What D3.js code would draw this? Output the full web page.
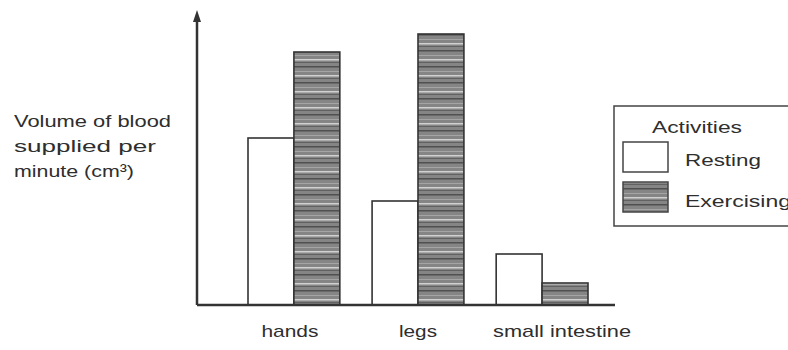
<!DOCTYPE html>
<html>
<head>
<meta charset="utf-8">
<script src="https://cdn.jsdelivr.net/npm/d3@7"></script>
<style>
	body { margin: 0; background: #fff; }
	svg text { font-family: 'Liberation Sans', Arial, sans-serif; fill: #2e2e2e; }
</style>
</head>
<body>
<div id="chart"></div>
<script>
// data (no scale printed, arbitrary units)
let categories = ['hands', 'legs', 'small intestine'];
let series = ['Resting', 'Exercising'];
let resting = [167, 104, 51];
let exercising = [253, 271, 22];
let yLabel = ['Volume of blood', 'supplied per', 'minute (cm³)'];
let legendTitle = 'Activities';

let width = 788,
	height = 350;
let x0 = 197,
	baseY = 305;

// widths of the (wide, scanned) lettering in the original
let catWidths = { hands: 57, legs: 38, 'small intestine': 138 };
let yLabelWidths = [157, 142, 120];
let legendWidths = { Activities: 90, Resting: 76, Exercising: 106 };

let svg = d3.select('#chart').append('svg').attr('width', width).attr('height', height);

// striped pattern for the exercising bars
let defs = svg.append('defs');
let pat = defs.append('pattern')
	.attr('id', 'stripes')
	.attr('patternUnits', 'userSpaceOnUse')
	.attr('width', 8)
	.attr('height', 16);
pat.append('rect').attr('width', 8).attr('height', 16).attr('fill', '#858585');
pat.append('rect').attr('y', 2).attr('width', 8).attr('height', 1.5).attr('fill', '#505050');
pat.append('rect').attr('y', 7).attr('width', 8).attr('height', 1).attr('fill', '#a5a5a5');
pat.append('rect').attr('y', 11).attr('width', 8).attr('height', 1.5).attr('fill', '#d0d0d0');
pat.append('rect').attr('y', 14).attr('width', 8).attr('height', 1).attr('fill', '#626262');

let x = d3.scaleBand().domain(categories).range([248, 588]).paddingInner(0.26).paddingOuter(0);
let xs = d3.scaleBand().domain(series).range([0, x.bandwidth()]);
let y = d3.scaleLinear().domain([0, 300]).range([baseY, 5]);

let rows = categories.map((c, i) => ({ cat: c, values: [resting[i], exercising[i]] }));

let groups = svg.selectAll('g.grp')
	.data(rows)
	.enter()
	.append('g')
	.attr('class', 'grp')
	.attr('transform', (d) => 'translate(' + x(d.cat) + ',0)');

groups.selectAll('rect')
	.data((d) => d.values.map((v, j) => ({ s: series[j], v: v })))
	.enter()
	.append('rect')
	.attr('x', (d) => xs(d.s))
	.attr('y', (d) => y(d.v))
	.attr('width', xs.bandwidth())
	.attr('height', (d) => baseY - y(d.v))
	.attr('fill', (d) => (d.s == 'Resting' ? '#fff' : 'url(#stripes)'))
	.attr('stroke', '#333')
	.attr('stroke-width', 1.6);

// axes (no ticks in the original)
svg.append('line').attr('x1', x0).attr('x2', x0).attr('y1', 18).attr('y2', baseY)
	.attr('stroke', '#333').attr('stroke-width', 2.5);
svg.append('path').attr('d', 'M' + x0 + ',10 L' + (x0 - 4) + ',22 L' + (x0 + 4) + ',22 Z').attr('fill', '#333');
svg.append('line').attr('x1', x0).attr('x2', 615).attr('y1', baseY).attr('y2', baseY)
	.attr('stroke', '#333').attr('stroke-width', 2.5);

// category labels
svg.selectAll('text.cat')
	.data(categories)
	.enter()
	.append('text')
	.attr('class', 'cat')
	.attr('x', (d) => x(d) + x.bandwidth() / 2 - catWidths[d] / 2 + (d == 'small intestine' ? 20 : (d == 'hands' ? -4 : 0)))
	.attr('y', 337)
	.attr('textLength', (d) => catWidths[d])
	.attr('lengthAdjust', 'spacingAndGlyphs')
	.style('font-size', '17px')
	.text((d) => d);

// y label
svg.selectAll('text.ylab')
	.data(yLabel)
	.enter()
	.append('text')
	.attr('class', 'ylab')
	.attr('x', 14)
	.attr('y', (d, i) => 127 + i * 25)
	.attr('textLength', (d, i) => yLabelWidths[i])
	.attr('lengthAdjust', 'spacingAndGlyphs')
	.style('font-size', '17px')
	.text((d) => d);

// legend
let lg = svg.append('g').attr('transform', 'translate(614,106)');
lg.append('rect').attr('width', 180).attr('height', 120).attr('fill', '#fff').attr('stroke', '#444').attr('stroke-width', 1.5);
lg.append('text').attr('x', 38).attr('y', 27)
	.attr('textLength', legendWidths[legendTitle]).attr('lengthAdjust', 'spacingAndGlyphs')
	.style('font-size', '17px').text(legendTitle);
series.forEach((s, i) => {
	lg.append('rect')
		.attr('x', 9)
		.attr('y', 36 + i * 40)
		.attr('width', 45)
		.attr('height', 30)
		.attr('fill', s == 'Resting' ? '#fff' : 'url(#stripes)')
		.attr('stroke', '#444')
		.attr('stroke-width', 1.5);
	lg.append('text').attr('x', 71).attr('y', 60 + i * 41)
		.attr('textLength', legendWidths[s]).attr('lengthAdjust', 'spacingAndGlyphs')
		.style('font-size', '17px').text(s);
});
</script>
</body>
</html>
